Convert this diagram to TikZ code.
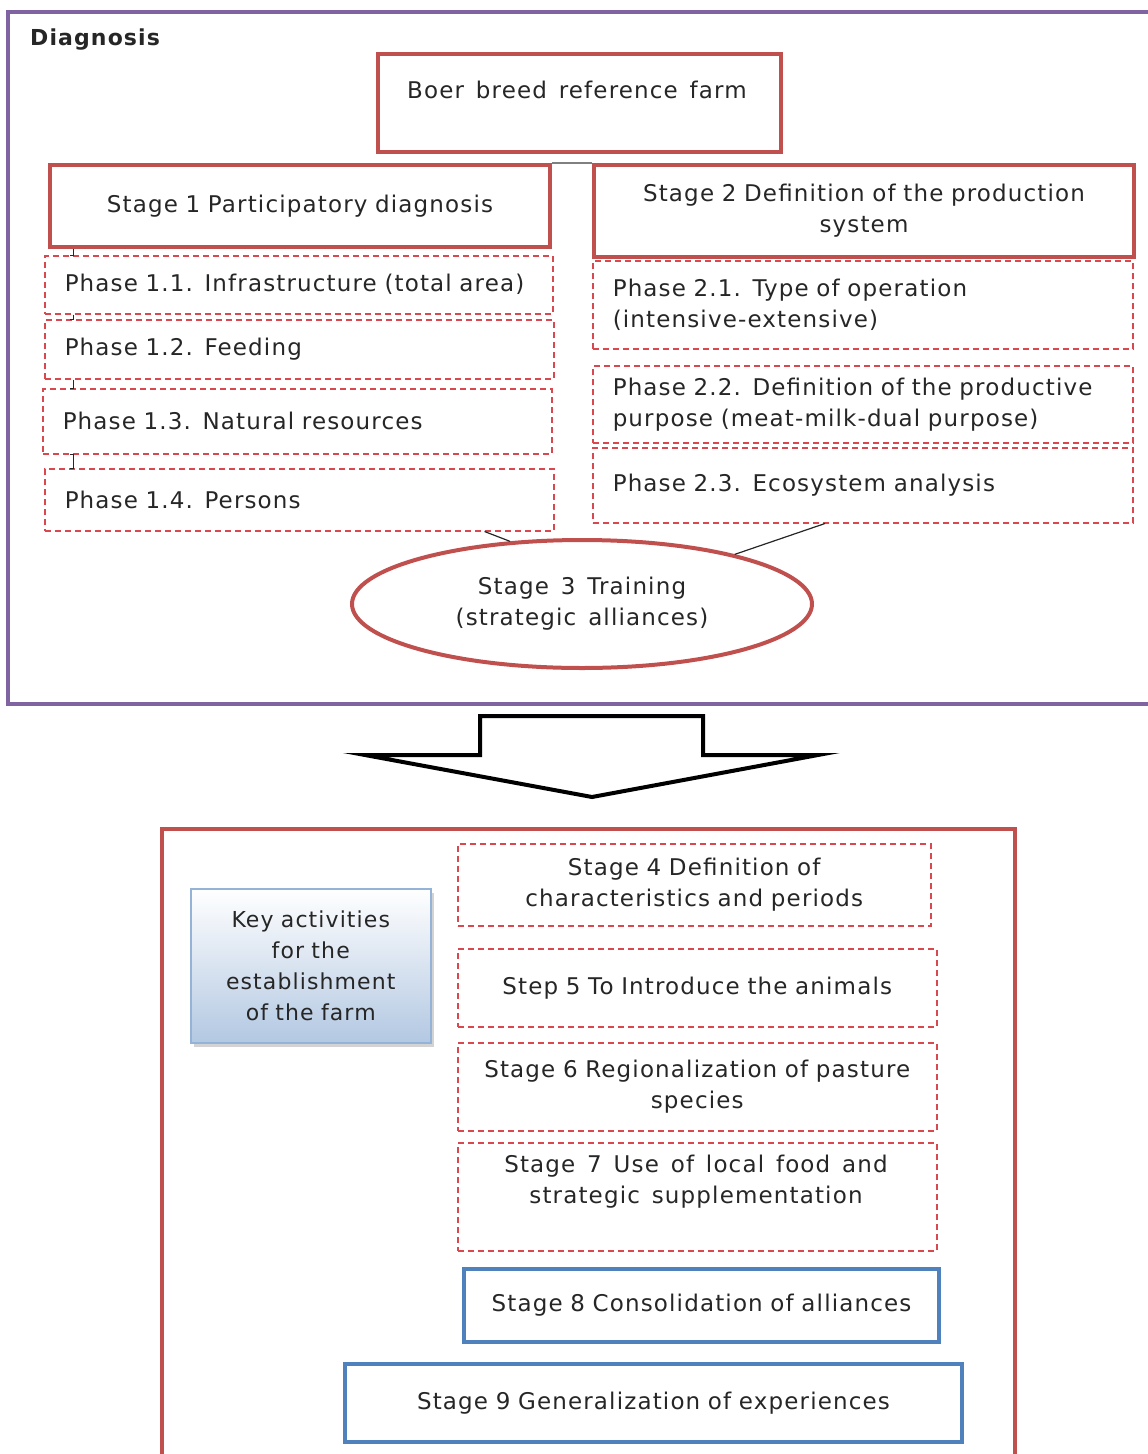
\documentclass[tikz,border=0pt]{standalone}
\usepackage{fontspec}
\setmainfont{DejaVu Sans}[LetterSpace=5, WordSpace=1.4]
\usetikzlibrary{shapes.geometric,shadows}
\definecolor{redb}{HTML}{C0504D}
\definecolor{redd}{HTML}{D9484F}
\definecolor{purp}{HTML}{8064A2}
\definecolor{blueb}{HTML}{4F81BD}
\definecolor{keyb}{HTML}{95B3D7}
\definecolor{keyf}{HTML}{B3C8E2}
\definecolor{txtc}{HTML}{262626}
\begin{document}
\begin{tikzpicture}[x=1pt,y=-1pt,
  every node/.style={font=\fontsize{23}{31}\selectfont, text=txtc},
  box/.style={rectangle, anchor=north west, inner ysep=0pt},
  redbox/.style={box, draw=redb, line width=4pt, inner xsep=10pt, align=center},
  bluebox/.style={box, draw=blueb, line width=4pt, inner xsep=10pt, align=center},
  dbox/.style={box, draw=redd, line width=1.5pt, dash pattern=on 6pt off 4pt, inner xsep=20pt, align=left},
  dcbox/.style={box, draw=redd, line width=1.5pt, dash pattern=on 6pt off 4pt, inner xsep=10pt, align=center},
  lbl/.style={inner sep=0pt, align=center},
  conn/.style={draw=black!85, line width=1.2pt},
]
\useasboundingbox (0,0) rectangle (1148,1454);
\clip (0,0) rectangle (1148,1454);

% Diagnosis container
\draw[purp, line width=4pt] (8,12) rectangle (1175,704);
\node[anchor=west, inner sep=0pt, font=\bfseries\fontsize{22}{24}\selectfont] (diag) at (30,40) {Diagnosis};

% top boxes
\node[redbox, minimum height=98pt, text width=383pt] (boer) at (376,52) {};
\node[lbl] (boert) at (577,90) {Boer breed reference farm};
\node[redbox, minimum height=82pt, text width=480pt] (s1) at (48,163) {Stage 1 Participatory diagnosis};
\node[redbox, minimum height=92pt, text width=520pt] (s2) at (592,163) {Stage 2 Definition of the production\\system};
\draw[draw=gray, line width=1.5pt] (s1.north east) -- (s2.north west);

% phases 1
\node[dbox, minimum height=58pt, text width=468pt] (p11) at (44,255) {Phase 1.1. Infrastructure (total area)};
\node[dbox, minimum height=59pt, text width=469pt] (p12) at (44,319) {Phase 1.2. Feeding};
\node[dbox, minimum height=65pt, text width=469pt] (p13) at (42,388) {Phase 1.3. Natural resources};
\node[dbox, minimum height=62pt, text width=469pt] (p14) at (44,468) {Phase 1.4. Persons};

% phases 2
\node[dbox, minimum height=88pt, text width=500pt] (p21) at (592,260) {Phase 2.1. Type of operation\\(intensive-extensive)};
\node[dbox, minimum height=77pt, text width=500pt] (p22) at (592,365) {Phase 2.2. Definition of the productive\\purpose (meat-milk-dual purpose)};
\node[dbox, minimum height=75pt, text width=500pt] (p23) at (592,447) {Phase 2.3. Ecosystem analysis};

% small connectors of stage 1
\coordinate (cx) at (73,0);
\draw[conn, line width=1pt] (s1.south -| cx) -- (p11.north -| cx) -- ++(-3,0);
\draw[conn, line width=1pt] (p11.south -| cx) -- (p12.north -| cx) -- ++(-3,0);
\draw[conn, line width=1pt] (p12.south -| cx) -- (p13.north -| cx) -- ++(-3,0);
\draw[conn, line width=1pt] ([xshift=-3pt]p13.south -| cx) -- (p13.south -| cx) -- (p14.north -| cx) -- ++(-3,0);

% stage 3
\node[ellipse, draw=redb, line width=4pt, minimum width=460pt, minimum height=128pt, inner sep=0pt, align=center] (s3) at (582,604) {Stage 3 Training\\(strategic alliances)};
\draw[conn] ([xshift=-70pt]p14.south east) -- (s3.139);
\draw[conn] ([xshift=233pt]p23.south west) -- (s3.18);

% block arrow
\draw[black, line width=4pt, line join=miter, miter limit=30, fill=white]
  (480,716) -- (703,716) -- (703,755) -- (818,755) -- (592,797) -- (365,755) -- (480,755) -- cycle;

% lower container
\draw[redb, line width=4pt] (162,1480) -- (162,829) -- (1015,829) -- (1015,1480);

\node[box, draw=keyb, line width=1.5pt, top color=white, bottom color=keyf,
  drop shadow={opacity=0.35, shadow xshift=3pt, shadow yshift=-4pt},
  minimum height=154pt, text width=220pt, inner xsep=10pt, align=center,
  font=\fontsize{22}{31}\selectfont] (key) at (190,888)
  {Key activities\\for the\\establishment\\of the farm};

\node[dcbox, minimum height=82pt, text width=453pt] (s4) at (457,843) {Stage 4 Definition of\\characteristics and periods};
\node[dcbox, minimum height=78pt, text width=459pt] (s5) at (457,948) {Step 5 To Introduce the animals};
\node[dcbox, minimum height=88pt, text width=459pt] (s6) at (457,1042) {Stage 6 Regionalization of pasture\\species};
\node[dcbox, minimum height=108pt, text width=459pt] (s7) at (457,1142) {};
\node[lbl] (s7t) at (696,1182) {Stage 7 Use of local food and\\strategic supplementation};
\node[bluebox, minimum height=73pt, text width=455pt] (s8) at (462,1267) {Stage 8 Consolidation of alliances};
\node[bluebox, minimum height=78pt, text width=597pt] (s9) at (343,1362) {Stage 9 Generalization of experiences};
\end{tikzpicture}
\end{document}
